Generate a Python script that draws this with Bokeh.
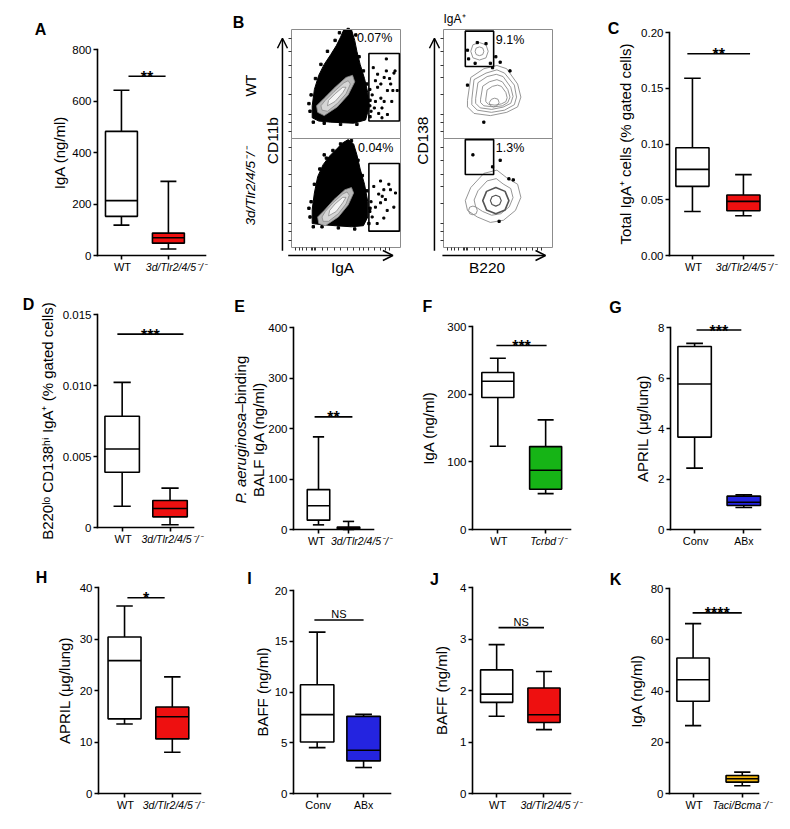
import math
from bokeh.plotting import figure
from bokeh.models import (Range1d, FixedTicker, CustomJSTickFormatter, Label, Arrow,
                          OpenHead, ColumnDataSource, LinearAxis, Spacer)
from bokeh.layouts import row, column
from bokeh.embed import file_html
from bokeh.resources import INLINE

FONT = "Liberation Sans"
RED = "#ee1010"
GREEN = "#16b416"
BLUE = "#2424e0"
GOLD = "#f0b40c"

# ---------------------------------------------------------------- data
# box statistics: [lower whisker, Q1, median, Q3, upper whisker]
A_cats = ["WT", "3d/Tlr2/4/5⁻/⁻"]
A_wt = [118, 152, 213, 482, 642]
A_ko = [25, 48, 69, 87, 288]
A_yticks = [0, 200, 400, 600, 800]
A_yticklabels = ["0", "200", "400", "600", "800"]
A_sig = "**"
A_sig_y = 696

C_cats = ["WT", "3d/Tlr2/4/5⁻/⁻"]
C_wt = [0.0395, 0.062, 0.0772, 0.0967, 0.159]
C_ko = [0.0356, 0.0401, 0.0485, 0.0542, 0.0725]
C_yticks = [0, 0.05, 0.10, 0.15, 0.20]
C_yticklabels = ["0.00", "0.05", "0.10", "0.15", "0.20"]
C_sig = "**"
C_sig_y = 0.181

D_cats = ["WT", "3d/Tlr2/4/5⁻/⁻"]
D_wt = [0.0015, 0.00389, 0.00553, 0.00783, 0.01022]
D_ko = [0.00019, 0.00075, 0.00134, 0.0019, 0.00277]
D_yticks = [0, 0.005, 0.010, 0.015]
D_yticklabels = ["0", "0.005", "0.010", "0.015"]
D_sig = "***"
D_sig_y = 0.01362

E_cats = ["WT", "3d/Tlr2/4/5⁻/⁻"]
E_wt = [9.2, 18.5, 47, 79, 183.5]
E_ko = [0, 1.3, 3, 5, 16]
E_yticks = [0, 100, 200, 300, 400]
E_yticklabels = ["0", "100", "200", "300", "400"]
E_sig = "**"
E_sig_y = 223

F_cats = ["WT", "Tcrbd⁻/⁻"]
F_wt = [123, 195, 219, 232, 253]
F_ko = [53, 59.5, 87.5, 122.5, 162]
F_yticks = [0, 100, 200, 300]
F_yticklabels = ["0", "100", "200", "300"]
F_sig = "***"
F_sig_y = 272

G_cats = ["Conv", "ABx"]
G_wt = [2.43, 3.66, 5.76, 7.25, 7.37]
G_ko = [0.87, 0.95, 1.08, 1.32, 1.37]
G_yticks = [0, 2, 4, 6, 8]
G_yticklabels = ["0", "2", "4", "6", "8"]
G_sig = "***"
G_sig_y = 7.9

H_cats = ["WT", "3d/Tlr2/4/5⁻/⁻"]
H_wt = [13.5, 14.5, 25.8, 30.4, 36.4]
H_ko = [8.0, 10.6, 14.9, 16.8, 22.65]
H_yticks = [0, 10, 20, 30, 40]
H_yticklabels = ["0", "10", "20", "30", "40"]
H_sig = "*"
H_sig_y = 38.0

I_cats = ["Conv", "ABx"]
I_wt = [4.52, 5.08, 7.77, 10.72, 15.9]
I_ko = [2.56, 3.21, 4.26, 7.6, 7.8]
I_yticks = [0, 5, 10, 15, 20]
I_yticklabels = ["0", "5", "10", "15", "20"]
I_sig = "NS"
I_sig_y = 17.1

J_cats = ["WT", "3d/Tlr2/4/5⁻/⁻"]
J_wt = [1.50, 1.77, 1.93, 2.40, 2.89]
J_ko = [1.24, 1.38, 1.53, 2.05, 2.37]
J_yticks = [0, 1, 2, 3, 4]
J_yticklabels = ["0", "1", "2", "3", "4"]
J_sig = "NS"
J_sig_y = 3.22

K_cats = ["WT", "Taci/Bcma⁻/⁻"]
K_wt = [26.5, 36.0, 44.4, 52.9, 66.3]
K_ko = [3.0, 4.44, 5.74, 7.05, 8.35]
K_yticks = [0, 20, 40, 60, 80]
K_yticklabels = ["0", "20", "40", "60", "80"]
K_sig = "****"
K_sig_y = 70.5

# ---- panel B flow cytometry (fractions of each sub-plot, x: 0-1, y: 0-1)
B_pct_left = ["0.07%", "0.04%"]
B_pct_right = ["9.1%", "1.3%"]

BL_top_cloud_x = [.19, .19, .21, .25, .30, .36, .41, .45, .48, .55, .58, .60, .63, .67,
                  .70, .71, .68, .57, .36, .25]
BL_top_cloud_y = [.19, .30, .45, .58, .68, .77, .85, .93, 1.0, 1.0, .90, .80, .68, .55,
                  .42, .28, .17, .14, .15, .16]
BL_bot_cloud_x = [.19, .19, .21, .24, .29, .35, .42, .47, .52, .57, .60, .63, .67, .70,
                  .70, .66, .55, .40, .27]
BL_bot_cloud_y = [.22, .35, .50, .65, .76, .84, .91, .96, .99, .95, .85, .72, .58, .42,
                  .28, .20, .19, .20, .21]
BL_top_edge_x = [.17, .18, .22, .27, .33, .40, .44, .62, .66, .69, .72, .72, .60, .45, .30,
                 .20, .16, .52, .59]
BL_top_edge_y = [.25, .40, .55, .68, .80, .90, .97, .75, .62, .50, .35, .20, .13, .13, .14,
                 .15, .32, 1.0, .95]
BL_bot_edge_x = [.17, .18, .21, .26, .32, .38, .45, .61, .65, .69, .72, .71, .58, .43, .28,
                 .20, .16, .30, .55]
BL_bot_edge_y = [.28, .42, .58, .72, .82, .89, .95, .80, .66, .52, .36, .22, .17, .18, .19,
                 .19, .36, .85, .98]

BL_top_rings_x = [[.24, .30, .42, .52, .58, .56, .50, .40, .30, .23],
                  [.28, .33, .42, .50, .54, .52, .48, .39, .31, .27],
                  [.33, .40, .47, .50, .47, .40, .34]]
BL_top_rings_y = [[.24, .21, .29, .40, .52, .58, .56, .47, .37, .30],
                  [.26, .25, .32, .41, .50, .53, .51, .43, .35, .30],
                  [.30, .34, .42, .47, .47, .41, .35]]
BL_bot_rings_x = [[.25, .31, .43, .52, .57, .55, .49, .39, .30, .24],
                  [.29, .34, .43, .50, .53, .51, .47, .38, .31, .28],
                  [.34, .41, .47, .50, .47, .40, .35]]
BL_bot_rings_y = [[.22, .20, .28, .39, .50, .55, .53, .44, .34, .28],
                  [.24, .24, .31, .40, .48, .51, .49, .41, .33, .28],
                  [.29, .33, .41, .46, .46, .40, .34]]

BL_top_dots_x = [.75, .77, .79, .82, .83, .85, .87, .88, .88, .91, .92, .94, .95, .77, .80,
                 .74, .85, .90, .93, .82, .79, .87, .97, .76, .83, .72, .72, .73]
BL_top_dots_y = [.65, .53, .47, .37, .28, .56, .62, .44, .22, .50, .34, .60, .62, .34, .23,
                 .40, .34, .55, .44, .50, .59, .73, .44, .28, .19, .30, .45, .25]
BL_bot_dots_x = [.755, .817, .847, .893, .908, .80, .862, .817, .77, .878, .939, .847, .786,
                 .954, .74, .832, .72, .73]
BL_bot_dots_y = [.56, .61, .53, .58, .53, .49, .44, .41, .37, .34, .37, .27, .22, .50, .28,
                 .47, .33, .42]
BL_gate_top = [.71, .99, .16, .78]   # left, right, bottom, top
BL_gate_bot = [.71, .99, .15, .77]

BR_top_rings_x = [[.22, .25, .37, .49, .58, .68, .71, .68, .58, .43, .28, .22],
                  [.26, .28, .39, .49, .56, .65, .67, .65, .56, .44, .31, .26],
                  [.295, .316, .40, .484, .547, .617, .638, .617, .547, .442, .337, .295],
                  [.34, .36, .42, .49, .54, .59, .61, .59, .54, .46, .37, .34],
                  [.388, .40, .448, .496, .532, .572, .584, .572, .532, .472, .412, .388],
                  [.42, .44, .47, .50, .51, .49, .46, .43],
                  [.25, .27, .33, .39, .41, .39, .33, .27],
                  [.29, .30, .33, .36, .37, .36, .33, .30]]
BR_top_rings_y = [[.35, .56, .64, .67, .64, .50, .38, .29, .24, .21, .23, .29],
                  [.36, .54, .60, .63, .60, .49, .38, .31, .26, .24, .26, .31],
                  [.365, .512, .568, .589, .568, .47, .386, .323, .288, .267, .281, .323],
                  [.36, .48, .52, .54, .52, .45, .38, .33, .30, .29, .30, .33],
                  [.362, .446, .478, .49, .478, .422, .374, .338, .318, .306, .314, .338],
                  [.33, .36, .37, .36, .33, .30, .29, .30],
                  [.80, .86, .88, .86, .80, .74, .72, .74],
                  [.80, .83, .84, .83, .80, .77, .76, .77]]
BR_bot_rings_x = [[.20, .25, .37, .49, .58, .68, .71, .66, .55, .43, .31, .22],
                  [.281, .316, .40, .484, .547, .617, .638, .603, .526, .442, .358, .295],
                  [.36, .395, .48, .565, .60, .565, .48, .395],
                  [.43, .445, .48, .515, .53, .515, .48, .445],
                  [.23, .24, .27, .30, .31, .30, .27, .24]]
BR_bot_rings_y = [[.43, .55, .68, .71, .64, .58, .46, .34, .25, .23, .28, .34],
                  [.436, .52, .611, .632, .583, .541, .457, .373, .31, .296, .331, .373],
                  [.43, .515, .55, .515, .43, .345, .31, .345],
                  [.43, .465, .48, .465, .43, .395, .38, .395],
                  [.34, .37, .38, .37, .34, .31, .30, .31]]
BR_top_dots_x = [.31, .39, .22, .23, .29, .43, .48, .45, .52, .61, .22, .37]
BR_top_dots_y = [.88, .87, .81, .73, .69, .69, .75, .65, .70, .62, .49, .15]
BR_bot_dots_x = [.27, .52, .45, .60, .64, .51]
BR_bot_dots_y = [.85, .80, .74, .63, .62, .24]
BR_gate_top = [.20, .46, .66, .985]
BR_gate_bot = [.20, .46, .67, .99]

FLOW_YTICKS = [.06, .15, .22, .40, .56, .67, .80, .92]
FLOW_XTICKS = [.04, .07, .10, .14, .18, .19, .21, .22, .28, .33, .39, .45, .51, .57, .62,
               .66, .71, .76, .82, .86, .90]

# ---------------------------------------------------------------- layout (pixels)
PAGE_PAD = 8
# mbl/mbr/mbt/mbb: margins around the plotting rectangle (fw x fh) inside each figure
GEOM = {
    "A": dict(mbl=89, fw=108, mbr=20, mbt=41, fh=206, mbb=35, xr=(0.49, 2.79), bw=0.68,
              sig_x=(1.15, 1.94), std=1, letter=(-57, 20), tick_dx=(1, 8)),
    "C": dict(mbl=69, fw=104, mbr=8, mbt=24, fh=223, mbb=35, xr=(0.55, 2.59), bw=0.65,
              sig_x=(0.90, 2.13), std=4, letter=(-56, 4), tick_dx=(1, 3)),
    "D": dict(mbl=89, fw=96, mbr=29, mbt=24, fh=213, mbb=33, xr=(0.485, 2.49), bw=0.72,
              sig_x=(0.90, 2.28), std=4, letter=(-69, 10), tick_dx=(1, 2)),
    "E": dict(mbl=71, fw=80, mbr=32, mbt=37, fh=202, mbb=31, xr=(0.167, 2.833), bw=0.75,
              sig_x=(0.87, 2.13), std=5, letter=(-54, 21), tick_dx=(-2, 13)),
    "F": dict(mbl=67, fw=98, mbr=30, mbt=36, fh=203, mbb=31, xr=(0.47, 2.52), bw=0.67,
              sig_x=(0.97, 2.02), std=7, letter=(-45, 20), tick_dx=(1, 3)),
    "G": dict(mbl=70, fw=90, mbr=20, mbt=37, fh=202, mbb=31, xr=(0.51, 2.34), bw=0.68,
              sig_x=(1.04, 1.95), std=4, letter=(-55, 20), tick_dx=(1, 0)),
    "H": dict(mbl=90, fw=102, mbr=25, mbt=27, fh=206, mbb=27, xr=(0.455, 2.59), bw=0.69,
              sig_x=(1.06, 1.84), std=4, letter=(-57, 10), tick_dx=(1, 1)),
    "I": dict(mbl=68, fw=97, mbr=20, mbt=30, fh=203, mbb=27, xr=(0.49, 2.58), bw=0.72,
              sig_x=(0.94, 2.0), std=1, letter=(-44, 12), tick_dx=(1, 0)),
    "J": dict(mbl=62, fw=98, mbr=28, mbt=27, fh=206, mbb=27, xr=(0.49, 2.56), bw=0.68,
              sig_x=(1.04, 2.0), std=7, letter=(-38, 8), tick_dx=(1, 7)),
    "K": dict(mbl=71, fw=89, mbr=20, mbt=28, fh=205, mbb=27, xr=(0.52, 2.33), bw=0.66,
              sig_x=(0.99, 1.99), std=3, letter=(-54, 9), tick_dx=(1, 0)),
}


def lbl(p, x, y, text, size, dx=0, dy=0, align="center", baseline="middle",
        style="normal", angle=0.0):
    p.add_layout(Label(x=x, y=y, x_offset=dx, y_offset=dy, text=text,
                       text_font=FONT, text_font_size=size, text_font_style=style,
                       text_color="black", text_align=align, text_baseline=baseline,
                       angle=angle))


def canvas(W, H, x0, x1, y0, y1, left, fw, top, fh):
    """Figure whose frame fills the whole canvas; the data box (x0..x1, y0..y1)
    occupies the pixel rectangle (left, top, fw, fh)."""
    u = (x1 - x0) / fw
    v = (y1 - y0) / fh
    right = W - left - fw
    bottom = H - top - fh
    p = figure(width=W, height=H,
               x_range=Range1d(x0 - left * u, x1 + right * u),
               y_range=Range1d(y0 - bottom * v, y1 + top * v),
               min_border=0, x_axis_location=None, y_axis_location=None,
               output_backend="svg", toolbar_location=None)
    p.outline_line_color = None
    p.grid.visible = False
    return p


def draw_box(p, x, stats, bw, fill):
    lo, q1, med, q3, hi = stats
    cw = bw / 4.0
    src = ColumnDataSource(dict(x0=[x, x, x - cw, x - cw], y0=[lo, q3, lo, hi],
                                x1=[x, x, x + cw, x + cw], y1=[q1, hi, lo, hi]))
    p.segment("x0", "y0", "x1", "y1", source=src, line_color="black", line_width=1.6)
    p.quad(left=[x - bw / 2], right=[x + bw / 2], bottom=[q1], top=[q3],
           fill_color=fill, line_color="black", line_width=1.6)
    p.segment(x0=[x - bw / 2], y0=[med], x1=[x + bw / 2], y1=[med],
              line_color="black", line_width=1.6)


def box_panel(key, cats, wt, ko, yticks, yticklabels, ylabel, sig, sig_y, color):
    g = GEOM[key]
    W = g["mbl"] + g["fw"] + g["mbr"]
    H = g["mbt"] + g["fh"] + g["mbb"]
    xr0, xr1 = g["xr"]
    ymin, ymax = yticks[0], yticks[-1]
    p = canvas(W, H, xr0, xr1, ymin, ymax, g["mbl"], g["fw"], g["mbt"], g["fh"])

    ya = LinearAxis(fixed_location=xr0, bounds=(ymin, ymax),
                    ticker=FixedTicker(ticks=yticks),
                    formatter=CustomJSTickFormatter(args=dict(labels=yticklabels),
                                                    code="return labels[index];"))
    xa = LinearAxis(fixed_location=ymin, bounds=(xr0, xr1),
                    ticker=FixedTicker(ticks=[1, 2]),
                    formatter=CustomJSTickFormatter(code="return '';"))
    for ax in (xa, ya):
        ax.axis_line_width = 1.6
        ax.axis_line_color = "black"
        ax.axis_line_cap = "square"
        ax.major_tick_line_width = 1.6
        ax.major_tick_line_color = "black"
        ax.major_tick_in = 0
        ax.major_tick_out = 4
        ax.minor_tick_line_color = None
        ax.major_label_text_font = FONT
        ax.major_label_text_color = "black"
    ya.major_label_text_font_size = "11.5px"
    ya.major_label_standoff = 2
    if ylabel:
        ya.axis_label = ylabel
        ya.axis_label_text_font = FONT
        ya.axis_label_text_font_size = "15px"
        ya.axis_label_text_font_style = "normal"
        ya.axis_label_text_color = "black"
        ya.axis_label_standoff = g["std"]
    xa.major_label_standoff = 0
    p.add_layout(ya, "left")
    p.add_layout(xa, "below")

    draw_box(p, 1, wt, g["bw"], "white")
    draw_box(p, 2, ko, g["bw"], color)

    # category labels under the axis
    lbl(p, 1, ymin, cats[0], "11px", dx=g["tick_dx"][0], dy=-11)
    lbl(p, 2, ymin, cats[1], "10.5px", dx=g["tick_dx"][1], dy=-11,
        style="normal" if cats[1] == "ABx" else "italic")

    # significance bar
    sx0, sx1 = g["sig_x"]
    p.segment(x0=[sx0], y0=[sig_y], x1=[sx1], y1=[sig_y], line_color="black", line_width=1.6)
    if sig == "NS":
        lbl(p, (sx0 + sx1) / 2, sig_y, sig, "11px", dy=6, baseline="alphabetic")
    else:
        lbl(p, (sx0 + sx1) / 2, sig_y, sig, "16px", dy=-1, baseline="alphabetic", style="bold")

    # panel letter
    lbl(p, xr0, ymax, key, "16px", dx=g["letter"][0], dy=g["letter"][1], style="bold")
    return p


def up(vals):
    return [v + 1 for v in vals]


def flow_fig(W, H, left, top):
    # two stacked sub-plots: y 0-1 (bottom) and 1-2 (top); x 0-1
    p = canvas(W, H, 0, 1, 0, 2, left, 109, top, 218)
    ya = LinearAxis(fixed_location=0, bounds=(0, 2),
                    ticker=FixedTicker(ticks=FLOW_YTICKS + up(FLOW_YTICKS)),
                    formatter=CustomJSTickFormatter(code="return '';"))
    xa = LinearAxis(fixed_location=0, bounds=(0, 1),
                    ticker=FixedTicker(ticks=FLOW_XTICKS),
                    formatter=CustomJSTickFormatter(code="return '';"))
    for ax in (xa, ya):
        ax.axis_line_color = None
        ax.major_tick_line_color = "#333333"
        ax.major_tick_line_width = 1
        ax.major_tick_in = 0
        ax.major_tick_out = 3
        ax.minor_tick_line_color = None
        ax.major_label_standoff = 0
    p.add_layout(ya, "left")
    p.add_layout(xa, "below")
    return p


def flow_frame(p):
    p.quad(left=[0, 0], right=[1, 1], bottom=[0, 1], top=[1, 2],
           fill_color=None, line_color="#8c8c8c", line_width=1)


def arrow(p, xs, ys, xe, ye):
    p.add_layout(Arrow(end=OpenHead(size=10, line_width=1.5, line_color="black"),
                       x_start=xs, y_start=ys, x_end=xe, y_end=ye,
                       line_width=1.5, line_color="black"))


# ---------------------------------------------------------------- panel B, left column
BL = flow_fig(185, 282, 66, 21)
BL.patch(BL_top_cloud_x, up(BL_top_cloud_y), fill_color="black", line_color="black")
BL.patch(BL_bot_cloud_x, BL_bot_cloud_y, fill_color="black", line_color="black")
BL.scatter(BL_top_edge_x, up(BL_top_edge_y), marker="square", size=2.4, color="black")
BL.scatter(BL_bot_edge_x, BL_bot_edge_y, marker="square", size=2.4, color="black")
ring_fill = ["#b8b8b8", "#d6d6d6", "#f4f4f4"]
BL.patches(BL_top_rings_x, [up(r) for r in BL_top_rings_y], fill_color=ring_fill,
           line_color="#8a8a8a", line_width=0.8)
BL.patches(BL_bot_rings_x, BL_bot_rings_y, fill_color=ring_fill,
           line_color="#8a8a8a", line_width=0.8)
BL.scatter(BL_top_dots_x, up(BL_top_dots_y), marker="square", size=2.0, color="black")
BL.scatter(BL_bot_dots_x, BL_bot_dots_y, marker="square", size=2.0, color="black")
flow_frame(BL)
for gte, off in ((BL_gate_top, 1), (BL_gate_bot, 0)):
    BL.quad(left=[gte[0]], right=[gte[1]], bottom=[gte[2] + off], top=[gte[3] + off],
            fill_color=None, line_color="black", line_width=1.6)
lbl(BL, 0.60, 1.92, B_pct_left[0], "12.5px", align="left")
lbl(BL, 0.61, 0.91, B_pct_left[1], "12.5px", align="left")
arrow(BL, -0.083, -0.03, -0.083, 1.92)
arrow(BL, -0.03, -0.073, 0.93, -0.073)
lbl(BL, -0.174, 0.98, "CD11b", "15.5px", angle=math.pi / 2)
lbl(BL, 0.468, -0.183, "IgA", "15.5px")
lbl(BL, -0.376, 1.486, "WT", "14px", angle=math.pi / 2)
lbl(BL, -0.376, 0.56, "3d/Tlr2/4/5⁻/⁻", "13.5px", angle=math.pi / 2, style="italic")
lbl(BL, -0.486, 2.064, "B", "16px", style="bold")

# ---------------------------------------------------------------- panel B, right column
BR = flow_fig(190, 282, 33, 21)
BR.patches(BR_top_rings_x, [up(r) for r in BR_top_rings_y], fill_color=None,
           line_color="#8a8a8a", line_width=0.9)
BR.patches(BR_bot_rings_x, BR_bot_rings_y, fill_color=None,
           line_color=["#8a8a8a", "#8a8a8a", "#555555", "#555555", "#8a8a8a"],
           line_width=[0.9, 0.9, 1.6, 1.2, 0.9])
BR.scatter(BR_top_dots_x, up(BR_top_dots_y), marker="square", size=2.2, color="black")
BR.scatter(BR_bot_dots_x, BR_bot_dots_y, marker="square", size=2.2, color="black")
flow_frame(BR)
for gte, off in ((BR_gate_top, 1), (BR_gate_bot, 0)):
    BR.quad(left=[gte[0]], right=[gte[1]], bottom=[gte[2] + off], top=[gte[3] + off],
            fill_color=None, line_color="black", line_width=1.6)
lbl(BR, 0.48, 1.90, B_pct_right[0], "12.5px", align="left")
lbl(BR, 0.48, 0.91, B_pct_right[1], "12.5px", align="left")
arrow(BR, -0.083, -0.03, -0.083, 1.92)
arrow(BR, -0.01, -0.073, 0.936, -0.073)
lbl(BR, -0.193, 0.98, "CD138", "15.5px", angle=math.pi / 2)
lbl(BR, 0.40, -0.183, "B220", "15.5px")
lbl(BR, 0.0, 2.10, "IgA⁺", "12px", align="left")

# ---------------------------------------------------------------- box panels
pA = box_panel("A", A_cats, A_wt, A_ko, A_yticks, A_yticklabels, "IgA (ng/ml)", A_sig, A_sig_y, RED)
pC = box_panel("C", C_cats, C_wt, C_ko, C_yticks, C_yticklabels,
               "Total IgA⁺ cells (% gated cells)", C_sig, C_sig_y, RED)
pD = box_panel("D", D_cats, D_wt, D_ko, D_yticks, D_yticklabels,
               "B220ˡᵒ CD138ʰⁱ IgA⁺ (% gated cells)", D_sig, D_sig_y, RED)
pE = box_panel("E", E_cats, E_wt, E_ko, E_yticks, E_yticklabels, None, E_sig, E_sig_y, RED)
ex0 = GEOM["E"]["xr"][0]
lbl(pE, ex0, 0, "P. aeruginosa", "15px", dx=-53, dy=26, align="left", style="italic",
    angle=math.pi / 2)
lbl(pE, ex0, 0, "–binding", "15px", dx=-53, dy=117, align="left", angle=math.pi / 2)
lbl(pE, ex0, 0, "BALF IgA (ng/ml)", "15px", dx=-35, dy=90, angle=math.pi / 2)
pF = box_panel("F", F_cats, F_wt, F_ko, F_yticks, F_yticklabels, "IgA (ng/ml)", F_sig, F_sig_y, GREEN)
pG = box_panel("G", G_cats, G_wt, G_ko, G_yticks, G_yticklabels, "APRIL (μg/lung)", G_sig, G_sig_y, BLUE)
pH = box_panel("H", H_cats, H_wt, H_ko, H_yticks, H_yticklabels, "APRIL (μg/lung)", H_sig, H_sig_y, RED)
pI = box_panel("I", I_cats, I_wt, I_ko, I_yticks, I_yticklabels, "BAFF (ng/ml)", I_sig, I_sig_y, BLUE)
pJ = box_panel("J", J_cats, J_wt, J_ko, J_yticks, J_yticklabels, "BAFF (ng/ml)", J_sig, J_sig_y, RED)
pK = box_panel("K", K_cats, K_wt, K_ko, K_yticks, K_yticklabels, "IgA (ng/ml)", K_sig, K_sig_y, GOLD)

grid = column(row(pA, BL, BR, pC), row(pD, pE, pF, pG), row(pH, pI, pJ, pK))
layout = row(Spacer(width=PAGE_PAD, height=10),
             column(Spacer(width=10, height=PAGE_PAD), grid))

open("out.html", "w").write(file_html(layout, INLINE))
